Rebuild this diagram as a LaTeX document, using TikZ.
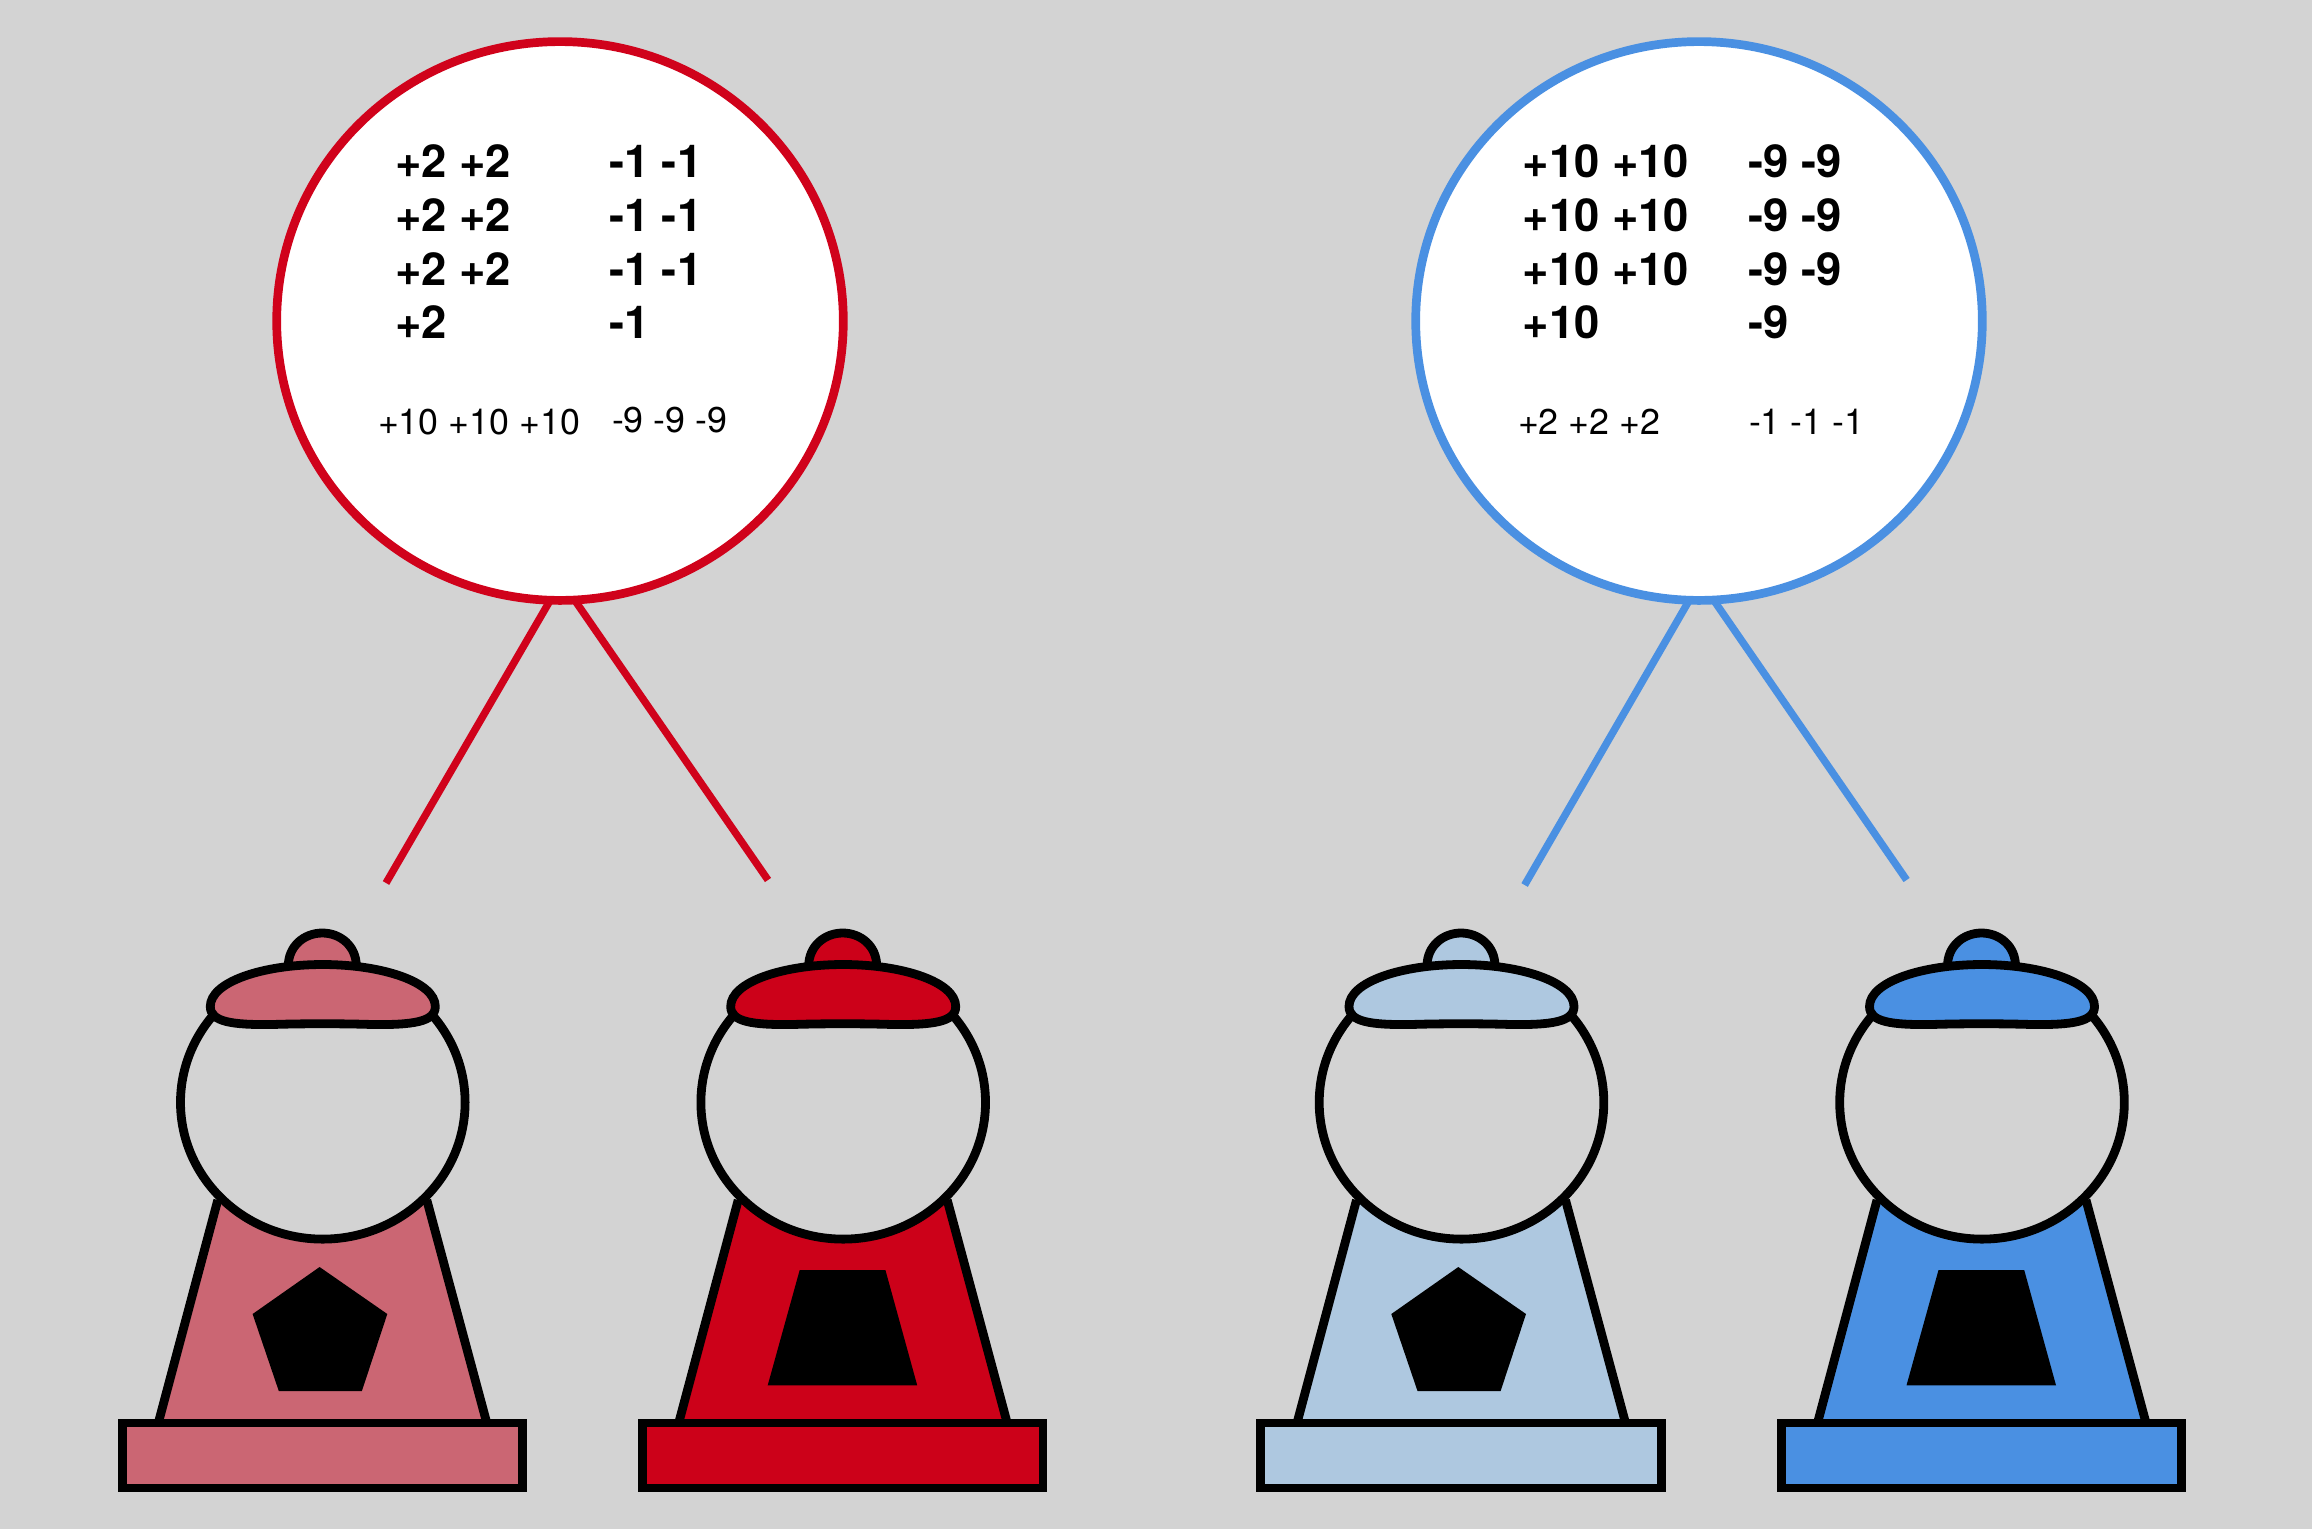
\documentclass[tikz,border=0pt]{standalone}
\usepackage{fontspec}
\setmainfont{TeX Gyre Heros}
\usetikzlibrary{shapes.geometric}
\definecolor{bgc}{HTML}{D3D3D3}
\definecolor{redc}{HTML}{D0021B}
\definecolor{redm}{HTML}{CC0119}
\definecolor{redl}{HTML}{CB6673}
\definecolor{bluec}{HTML}{4A90E2}
\definecolor{bluel}{HTML}{AEC8E0}
\tikzset{
  x=1pt,y=-1pt,
  bubble/.style={ellipse,draw=#1,line width=8.7pt,fill=white,minimum width=566.6pt,minimum height=558.8pt,inner sep=0pt,outer sep=0pt},
  link/.style={draw=#1,line width=7.4pt},
  big/.style={anchor=base west,inner sep=0pt,outer sep=0pt,font=\fontsize{45.4}{50}\selectfont\bfseries},
  small/.style={anchor=base west,inner sep=0pt,outer sep=0pt,font=\fontsize{35.8}{40}\selectfont},
  ink/.style={draw=black,line width=8.8pt},
}
\newcommand{\pentslot}{\fill[black] (-2.7,1267) -- (65,1314) -- (39.6,1391) -- (-43.5,1391) -- (-69.7,1314) -- cycle;}
\newcommand{\trapslot}{\fill[black] (-43,1270) -- (42.7,1270) -- (74.5,1385.3) -- (-75,1385.3) -- cycle;}
\newcommand{\gumball}[3]{%
  \begin{scope}[shift={(#1,0)}]
    \fill[#2] (-104.5,1200) -- (104.5,1200) -- (164.5,1423) -- (-164,1423) -- cycle;
    \draw[ink] (-104.5,1200) -- (-164,1423);
    \draw[ink] (104.5,1200) -- (164.5,1423);
    \draw[ink,fill=bgc] (0.5,1102.4) ellipse [x radius=142.3,y radius=136.7];
    \draw[ink,fill=#2] (-34,966) .. controls (-34,946) and (-18,933) .. (0,933) .. controls (18,933) and (34,946) .. (34,966);
    \draw[ink,fill=#2] (-112,1006.5) .. controls (-112,982) and (-60,964.5) .. (0.5,964.5) .. controls (60,964.5) and (113,982) .. (113,1006.5) .. controls (113,1022) and (90,1025) .. (50,1024.5) .. controls (20,1023.5) and (-20,1023.5) .. (-50,1024.5) .. controls (-90,1025) and (-112,1022) .. cycle;
    #3
    \draw[ink,fill=#2] (-200.2,1423) rectangle (200.2,1488);
  \end{scope}}
\begin{document}
\begin{tikzpicture}
\fill[bgc] (0,0) rectangle (2312,1529);
\useasboundingbox (0,0) rectangle (2312,1529);
% free ends of the connectors
\coordinate (e1) at (386,883);
\coordinate (e2) at (768,880);
\coordinate (e3) at (1524.6,885);
\coordinate (e4) at (1906.6,880);
% bubbles
\node[bubble=redc] (bubR) at (560,321) {};
\node[bubble=bluec] (bubB) at (1699,321) {};
\draw[link=redc] (bubR.-92) -- (e1);
\draw[link=redc] (bubR.-87) -- (e2);
\draw[link=bluec] (bubB.-92) -- (e3);
\draw[link=bluec] (bubB.-87) -- (e4);
% machines
\gumball{322.3}{redl}{\pentslot}
\gumball{842.7}{redm}{\trapslot}
\gumball{1461}{bluel}{\pentslot}
\gumball{1981.5}{bluec}{\trapslot}
% red bubble text
\node[big] (ra1) at (395,177.4) {+2 +2};
\node[big] (ra2) at (395,231.2) {+2 +2};
\node[big] (ra3) at (395,285) {+2 +2};
\node[big] (ra4) at (395,338.7) {+2};
\node[big] (rb1) at (609,177.4) {-1 -1};
\node[big] (rb2) at (609,231.2) {-1 -1};
\node[big] (rb3) at (609,285) {-1 -1};
\node[big] (rb4) at (609,338.7) {-1};
\node[small] (rc) at (378,434) {+10 +10 +10};
\node[small] (rd) at (612,432) {-9 -9 -9};
% blue bubble text
\node[big] (ba1) at (1522.5,177.4) {+10 +10};
\node[big] (ba2) at (1522.5,231.2) {+10 +10};
\node[big] (ba3) at (1522.5,285) {+10 +10};
\node[big] (ba4) at (1522.5,338.7) {+10};
\node[big] (bb1) at (1748,177.4) {-9 -9};
\node[big] (bb2) at (1748,231.2) {-9 -9};
\node[big] (bb3) at (1748,285) {-9 -9};
\node[big] (bb4) at (1748,338.7) {-9};
\node[small] (bc) at (1518,434) {+2 +2 +2};
\node[small] (bd) at (1749,434) {-1 -1 -1};
\end{tikzpicture}
\end{document}
